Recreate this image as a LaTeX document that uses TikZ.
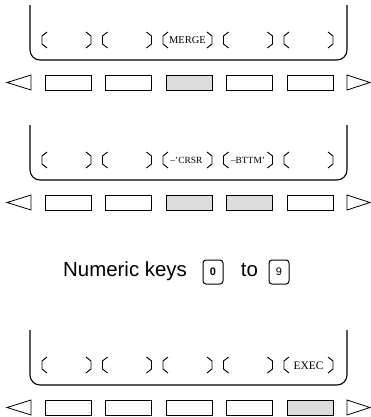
\documentclass[tikz,border=0pt]{standalone}
\usepackage{fontspec}
\setmainfont{Liberation Serif}
\newfontfamily\arialf{Liberation Sans}
\definecolor{keygray}{RGB}{220,220,220}
\begin{document}
\begin{tikzpicture}[x=1bp,y=-1bp,
  frame/.style={line width=1.1bp, rounded corners=10bp},
  softkey/.style={draw, line width=0.8bp, minimum width=46bp, minimum height=15bp, inner sep=0pt, fill=white},
  shaded/.style={fill=keygray},
  arrowkey/.style={draw, line width=0.8bp, line join=miter},
  brk/.style={line width=0.9bp},
  lbr/.pic={\draw[brk] (5,-8) -- (0,-4) -- (0,4) -- (5,8);},
  rbr/.pic={\draw[brk] (-5,-8) -- (0,-4) -- (0,4) -- (-5,8);},
  sklabel/.style={inner sep=0pt, font=\fontsize{10.5}{10.5}\selectfont},
  numkey/.style={draw, rounded corners=3bp, minimum width=20bp, minimum height=24bp, inner sep=0pt, line width=1bp},
  ]
\useasboundingbox (0,0) rectangle (371,417);
\foreach \b/\dy in {1/0,2/120,3/325}{
  % screen frame
  \draw[frame] (30,5+\dy) |- (347,60+\dy) -- (347,5+\dy);
  % page arrows
  \draw[arrowkey] (31,75+\dy) -- (7,82.5+\dy) -- (31,90+\dy) -- cycle;
  \draw[arrowkey] (347,75+\dy) -- (370,82.5+\dy) -- (347,90+\dy) -- cycle;
  \foreach \i in {0,...,4}{
    \pgfmathsetmacro{\L}{45+60.5*\i}
    \node[softkey] (k\b\i) at (\L+23,82.5+\dy) {};
    \pic at (\L-3,40+\dy) {lbr};
    \pic at (\L+46,40+\dy) {rbr};
  }
}
% shaded keys
\node[softkey,shaded] at (k12) {};
\node[softkey,shaded] at (k22) {};
\node[softkey,shaded] at (k23) {};
\node[softkey,shaded] at (k34) {};
% soft key labels
\node[sklabel] (merge) at (45+60.5*2+21.5,40.5) {MERGE};
\node[sklabel, font=\fontsize{9.5}{9.5}\selectfont] (crsr) at (45+60.5*2+20.5,160.5) {–'CRSR};
\node[sklabel, font=\fontsize{9.5}{9.5}\selectfont] (bttm) at (45+60.5*3+21.5,160.5) {–BTTM'};
\node[sklabel, font=\fontsize{11.5}{11.5}\selectfont] (exec) at (45+60.5*4+21.5,365.5) {EXEC};
% numeric keys line
\node[anchor=base west, inner sep=0pt, font=\arialf\fontsize{20.5}{24}\selectfont] (numtxt) at (63,276) {Numeric keys};
\node[numkey] (key0) at (213,272) {\arialf\bfseries\fontsize{11}{11}\selectfont 0};
\node[anchor=base, inner sep=0pt, font=\arialf\fontsize{20.5}{24}\selectfont] (totxt) at (249.5,276) {to};
\node[numkey] (key9) at (279,272) {\arialf\fontsize{11}{11}\selectfont 9};
\end{tikzpicture}
\end{document}
